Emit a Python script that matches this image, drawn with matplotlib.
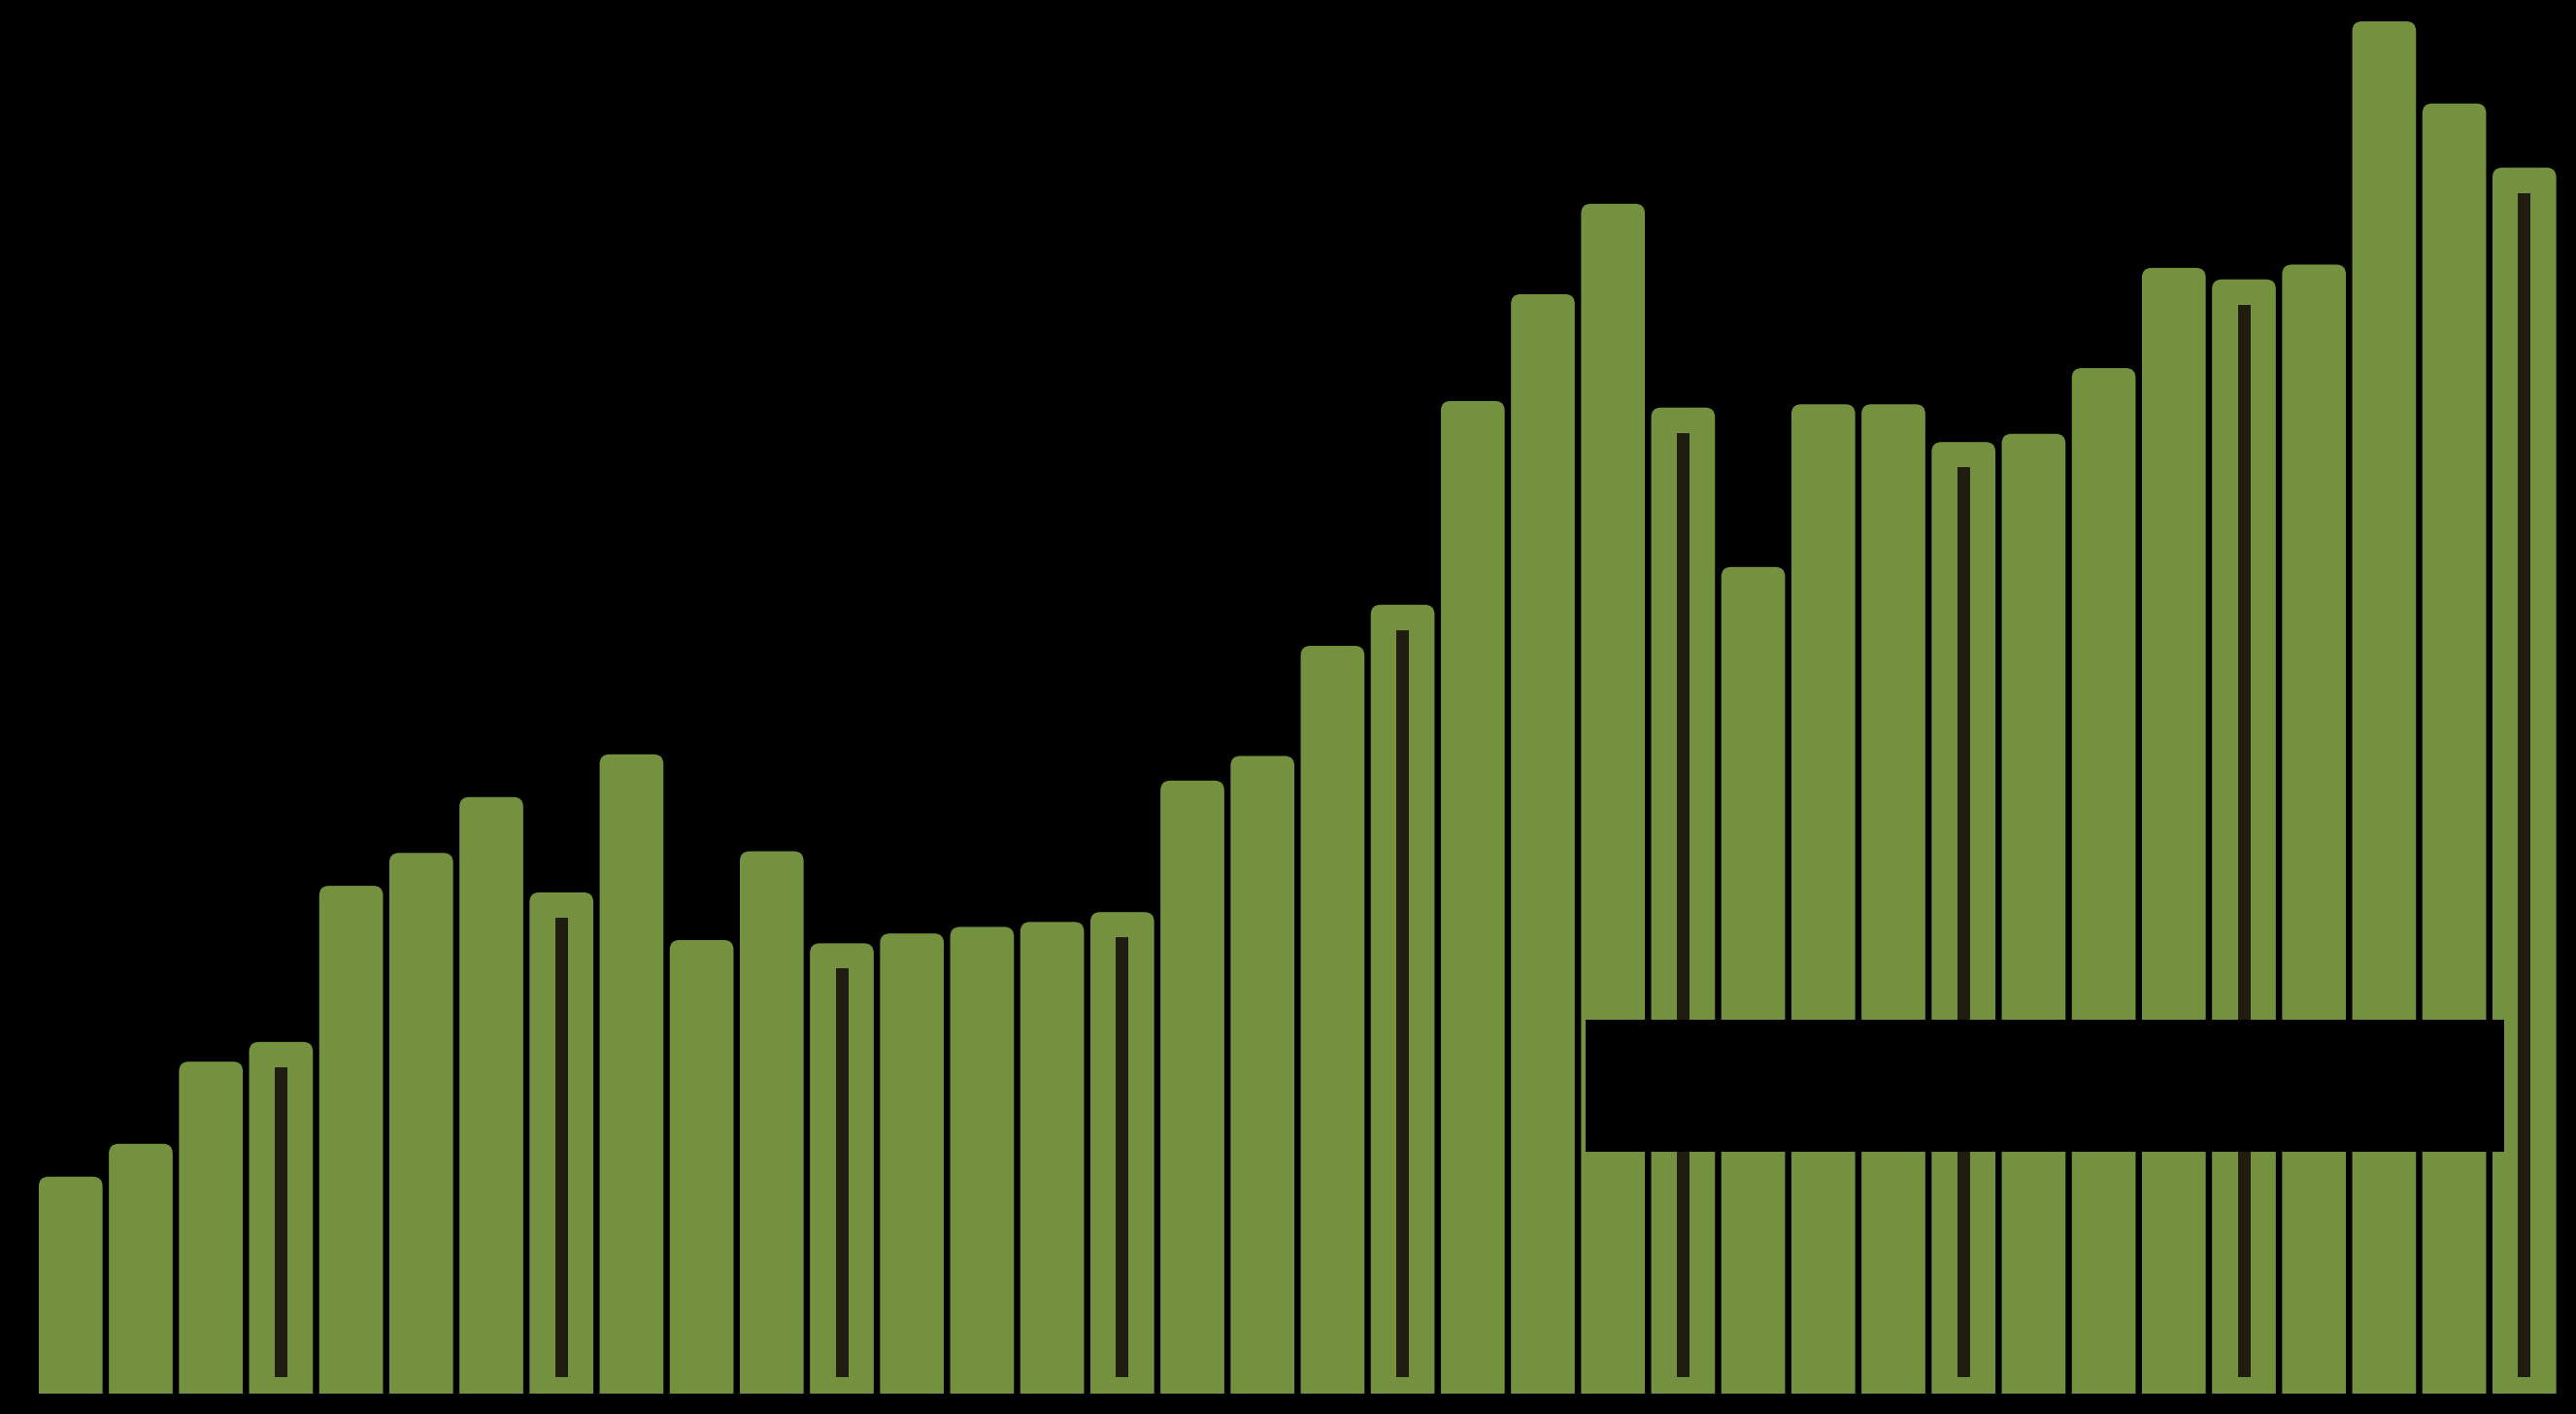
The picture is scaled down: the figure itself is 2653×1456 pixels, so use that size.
import matplotlib
matplotlib.use("Agg")
import matplotlib.pyplot as plt
from matplotlib.patches import FancyBboxPatch, Rectangle
import numpy as np

# ---- data ----
years = [2015, 2016, 2017, 2018, 2019, 2020, 2021, 2022, 2023]
quarters = ["Q1", "Q2", "Q3", "Q4"]
categories = [f"{q} {y}" for y in years for q in quarters]
values = [132, 152, 202, 214,
          309, 329, 363, 305,
          389, 276, 330, 274,
          280, 284, 287, 293,
          373, 388, 455, 480,
          604, 669, 724, 600,
          503, 602, 602, 579,
          584, 624, 685, 678,
          687, 835, 785, 746]
outlined = [c.startswith("Q4") for c in categories]

GREEN = "#74913f"
DARK = "#211c10"

W, H, DPI = 2653, 1456, 100
fig = plt.figure(figsize=(W / DPI, H / DPI), dpi=DPI)
fig.patch.set_facecolor("black")

base_px = 1435
ax = fig.add_axes([0, (H - base_px) / H, 1, base_px / H])
ax.set_facecolor("black")
ax.set_axis_off()

x = np.arange(len(values))
pitch_px = 72.2
first_px = 72.8
ax.set_xlim(-first_px / pitch_px, (W - first_px) / pitch_px)
ax.set_ylim(0, 848)

ypp = 848 / base_px          # y data units per pixel
xpp = 1 / pitch_px           # x data units per pixel

bars = ax.bar(x, values, width=0.91, color=GREEN)
r_px = 10
for rect in bars:
    bx, by = rect.get_x(), rect.get_y()
    bw, bh = rect.get_width(), rect.get_height()
    rect.set_visible(False)
    ext = 3 * r_px * ypp
    fb = FancyBboxPatch((bx, by - ext), bw, bh + ext,
                        boxstyle=f"round,pad=0,rounding_size={r_px * xpp}",
                        mutation_aspect=ypp / xpp,
                        facecolor=GREEN, edgecolor="none", zorder=2)
    ax.add_patch(fb)

# inner dark strip for outlined bars
xo = x[np.array(outlined)]
vo = np.array(values)[np.array(outlined)]
top_off = 26 * ypp
bot_off = 17 * ypp
ax.bar(xo, vo - top_off - bot_off, bottom=bot_off, width=13 * xpp,
       color=DARK, zorder=3)

# dark annotation box (lower right)
bx0, bx1, by0, by1 = 1633, 2579, 1050, 1186
ax.add_patch(Rectangle((bx0 / W, (base_px - by1) / base_px),
                       (bx1 - bx0) / W, (by1 - by0) / base_px,
                       transform=ax.transAxes, facecolor="black",
                       edgecolor="none", zorder=5))

fig.savefig("out.png", dpi=DPI, facecolor="black")
